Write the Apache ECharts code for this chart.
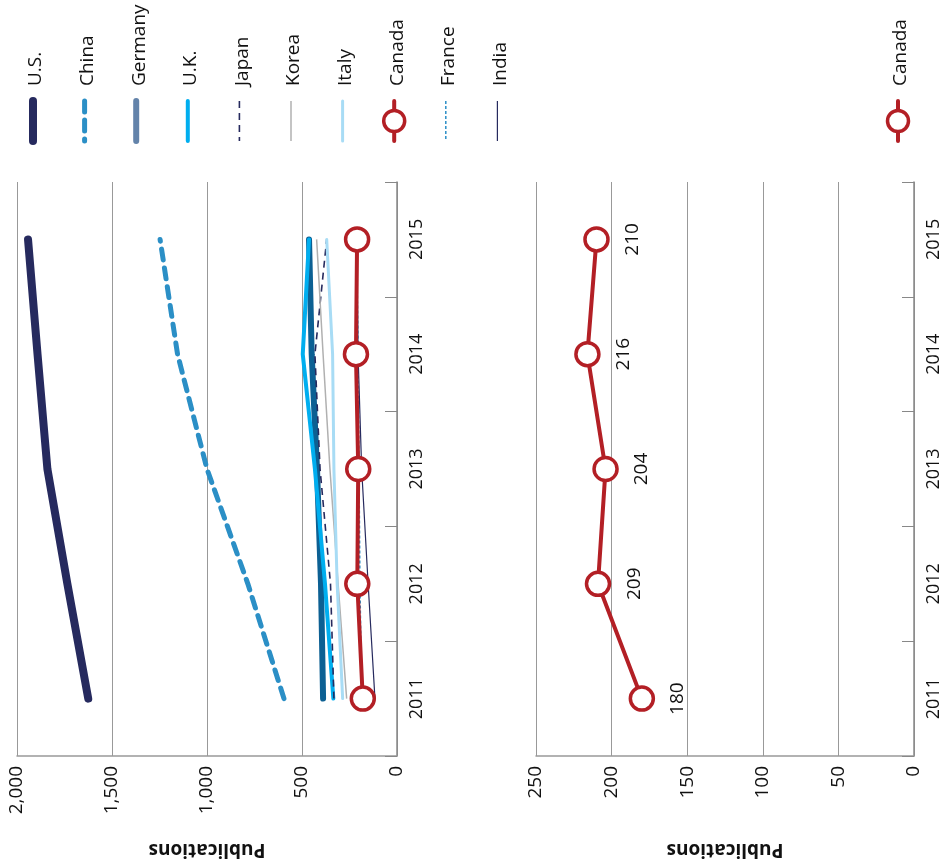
<!DOCTYPE html>
<html><head><meta charset="utf-8">
<script src="https://cdn.jsdelivr.net/npm/echarts@6/dist/echarts.min.js"></script>
<style>html,body{margin:0;padding:0;background:#fff}#c{width:943px;height:867px}</style>
</head><body><div id="c"></div>
<script>
const years = ['2011', '2012', '2013', '2014', '2015'];
const names = ['U.S.', 'China', 'Germany', 'U.K.', 'Japan', 'Korea', 'Italy', 'Canada', 'France', 'India'];
const us = [1625, 1735, 1840, 1892, 1942];
const china = [595, 785, 1000, 1155, 1247];
const germany = [389, 400, 421, 449, 463];
const uk = [335, 379, 432, 496, 463];
const japan = [332, 350, 405, 432, 370];
const korea = [265, 310, 353, 389, 423];
const italy = [286, 315, 332, 339, 370];
const canada = [180, 209, 204, 216, 210];
const france = [186, 195, 200, 205, 212];
const india = [116, 152, 186, 205, 212];
const ticksTop = [0, 500, 1000, 1500, 2000];
const ticksBottom = [0, 50, 100, 150, 200, 250];

const FONT = 'Open Sans';
const RED = '#b31f25';
const styles = {
  'U.S.': {color: '#262a5e', width: 8, type: 'solid', cap: 'round'},
  'China': {color: '#2b8fc6', width: 5, type: [11, 8], cap: 'round'},
  'Germany': {color: '#0c6093', width: 6, type: 'solid', cap: 'round', legend: '#6383aa'},
  'U.K.': {color: '#00aeef', width: 4, type: 'solid', cap: 'round'},
  'Japan': {color: '#262a5e', width: 1.6, type: [7, 5], cap: 'butt'},
  'Korea': {color: '#b0b0b0', width: 1.5, type: 'solid', cap: 'butt'},
  'Italy': {color: '#a8dcf5', width: 3, type: 'solid', cap: 'round'},
  'Canada': {color: RED, width: 4, type: 'solid', cap: 'round'},
  'France': {color: '#2b8fc6', width: 1.5, type: [3, 2], cap: 'butt'},
  'India': {color: '#262a5e', width: 1.2, type: 'solid', cap: 'butt'}
};
const dataMap = {'U.S.': us, 'China': china, 'Germany': germany, 'U.K.': uk, 'Japan': japan,
  'Korea': korea, 'Italy': italy, 'Canada': canada, 'France': france, 'India': india};

const chart = echarts.init(document.getElementById('c'));

function valueAxis(idx, max, interval) {
  return {
    type: 'value', gridIndex: idx, min: 0, max: max, interval: interval, inverse: true,
    position: 'bottom',
    axisLine: {show: true, lineStyle: {color: '#999', width: 1.5}},
    axisTick: {show: false},
    splitLine: {show: true, lineStyle: {color: '#999', width: 1}},
    axisLabel: {rotate: 90, margin: 10, color: '#111', fontFamily: FONT, fontSize: 19,
      formatter: v => v.toLocaleString('en-US')},
    name: 'Publications', nameLocation: 'middle', nameGap: 84, nameRotate: 180,
    nameTextStyle: {fontFamily: FONT, fontSize: 19, fontWeight: 'bold', color: '#111'}
  };
}
function catAxis(idx) {
  return {
    type: 'category', gridIndex: idx, data: years, position: 'right', boundaryGap: true,
    axisLine: {show: true, lineStyle: {color: '#888', width: 1.5}},
    axisTick: {show: true, inside: true, length: 12, lineStyle: {color: '#888', width: 1}},
    splitLine: {show: false},
    axisLabel: {rotate: 90, margin: 11, color: '#111', fontFamily: FONT, fontSize: 18}
  };
}

const order = ['U.S.', 'China', 'Germany', 'U.K.', 'Japan', 'Korea', 'Italy', 'France', 'India', 'Canada'];
const series = order.map(n => {
  const s = styles[n];
  const isCan = n === 'Canada';
  return {
    name: n, type: 'line', xAxisIndex: 0, yAxisIndex: 0, data: dataMap[n],
    symbol: isCan ? 'circle' : 'none', symbolSize: 23, showSymbol: isCan,
    itemStyle: {color: '#fff', borderColor: RED, borderWidth: 3.5},
    lineStyle: {color: s.color, width: s.width, type: s.type, cap: s.cap, join: 'round'},
    z: isCan ? 10 : 2, silent: true, animation: false
  };
});
series.push({
  name: 'Canada', type: 'line', xAxisIndex: 1, yAxisIndex: 1, data: canada,
  symbol: 'circle', symbolSize: 23, showSymbol: true,
  itemStyle: {color: '#fff', borderColor: RED, borderWidth: 3.5},
  lineStyle: {color: RED, width: 4, cap: 'round', join: 'round'},
  label: {show: true, position: 'right', distance: 23, rotate: 90, align: 'center', verticalAlign: 'middle',
    fontFamily: FONT, fontSize: 19, color: '#111'},
  z: 10, silent: true, animation: false
});

// legend drawn as graphics
const graphics = [];
function legendItem(name, cx) {
  const s = styles[name];
  const col = s.legend || s.color;
  const g = {type: 'group', children: []};
  g.children.push({type: 'line', shape: {x1: cx, y1: 101, x2: cx, y2: 141},
    style: {stroke: col, lineWidth: s.width, lineDash: Array.isArray(s.type) ? s.type : null, lineCap: s.cap}});
  if (name === 'Canada') {
    g.children.push({type: 'circle', shape: {cx: cx, cy: 121, r: 10.5},
      style: {fill: '#fff', stroke: RED, lineWidth: 3.5}, z: 5});
  }
  g.children.push({type: 'text', x: cx + 3, y: 86, rotation: Math.PI / 2,
    style: {text: name, fontFamily: FONT, fontSize: 19, fill: '#111', align: 'left', verticalAlign: 'middle'}});
  graphics.push(g);
}
names.forEach((n, i) => legendItem(n, 33 + i * 51.6));
legendItem('Canada', 898);

chart.setOption({
  backgroundColor: '#fff',
  animation: false,
  grid: [
    {left: 17, right: 546, top: 182, bottom: 111, containLabel: false},
    {left: 536, right: 28, top: 182, bottom: 111, containLabel: false}
  ],
  xAxis: [valueAxis(0, 2000, 500), valueAxis(1, 250, 50)],
  yAxis: [catAxis(0), catAxis(1)],
  series: series,
  graphic: graphics
});
</script></body></html>
